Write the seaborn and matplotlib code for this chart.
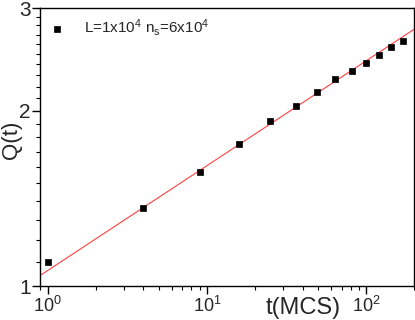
import numpy as np
import pandas as pd
import matplotlib
matplotlib.use('Agg')
import matplotlib.pyplot as plt
import matplotlib.ticker as mticker
import seaborn as sns

# data (log-log)
t_mcs = [1, 4, 9, 16, 25, 36, 49, 64, 81, 100, 121, 144, 169]
q_vals = [1.10, 1.36, 1.57, 1.75, 1.92, 2.04, 2.15, 2.27, 2.34, 2.41, 2.49, 2.57, 2.63]
# power-law fit Q = A * t^b
fit_amp = 1.063
fit_exp = 0.18
fit_range = [0.9, 200]
legend_label = r'L=1x10$^4$ n$_s$=6x10$^4$'

df = pd.DataFrame({'t': t_mcs, 'Q': q_vals})
t_fit = np.geomspace(fit_range[0], fit_range[1], 50)
fit_df = pd.DataFrame({'t': t_fit, 'Q': fit_amp * t_fit ** fit_exp})

sns.set_style('ticks')
plt.rcParams['font.family'] = ['Liberation Sans', 'DejaVu Sans']
plt.rcParams['mathtext.default'] = 'regular'

fig = plt.figure(figsize=(4.15, 3.2), dpi=100)
ax = fig.add_axes([0.097, 0.106, 0.901, 0.869])

sns.lineplot(data=fit_df, x='t', y='Q', color='#ff4040', linewidth=0.8, ax=ax)
sns.scatterplot(data=df, x='t', y='Q', marker='s', s=22, color='black',
                edgecolor='black', linewidth=0.5, label=legend_label, ax=ax, zorder=3)

ax.set_xscale('log')
ax.set_yscale('log')
ax.set_xlim(fit_range[0], fit_range[1])
ax.set_ylim(1, 3)

ax.yaxis.set_major_locator(mticker.FixedLocator([1, 2, 3]))
ax.yaxis.set_major_formatter(mticker.FixedFormatter(['1', '2', '3']))
ax.yaxis.set_minor_locator(mticker.FixedLocator(np.arange(1.1, 3.0, 0.1)))
ax.yaxis.set_minor_formatter(mticker.NullFormatter())
ax.xaxis.set_major_locator(mticker.LogLocator(base=10))
ax.xaxis.set_minor_locator(mticker.LogLocator(base=10, subs=np.arange(2, 10)))
ax.xaxis.set_minor_formatter(mticker.NullFormatter())

ax.tick_params(which='major', direction='out', length=6, width=1, color='black')
ax.tick_params(which='minor', direction='out', length=3, width=0.8, color='black')
ax.tick_params(axis='y', which='major', labelsize=15, pad=1)
ax.tick_params(axis='x', which='major', labelsize=13, pad=1)

for sp in ax.spines.values():
    sp.set_color('black')
    sp.set_linewidth(1)

ax.set_xlabel('t(MCS)', fontsize=17)
ax.set_ylabel('Q(t)', fontsize=16)
ax.xaxis.set_label_coords(0.703, -0.04)
ax.yaxis.set_label_coords(-0.05, 0.525)

ax.legend(loc='upper left', frameon=False, fontsize=11, handlelength=1.0,
          handletextpad=1.25, borderaxespad=0.2, markerscale=1.0)

fig.savefig('out.png', dpi=100)
